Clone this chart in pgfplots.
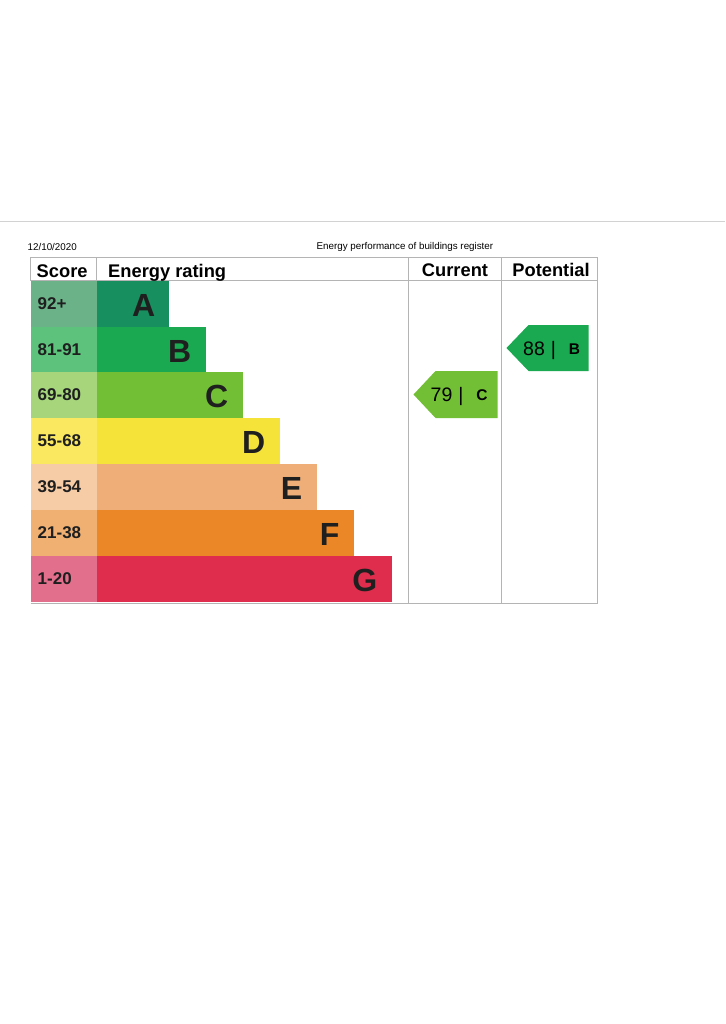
\documentclass[border=0pt]{standalone}
\usepackage{pgfplots}
\pgfplotsset{compat=1.18}
\usepackage{fontspec}
\setmainfont{Liberation Sans}
\definecolor{cA}{HTML}{178F5F}\definecolor{cAs}{HTML}{6BB289}
\definecolor{cB}{HTML}{1AA850}\definecolor{cBs}{HTML}{5CC27C}
\definecolor{cC}{HTML}{72BF35}\definecolor{cCs}{HTML}{A6D57C}
\definecolor{cD}{HTML}{F5E33A}\definecolor{cDs}{HTML}{F9E860}
\definecolor{cE}{HTML}{EFAE77}\definecolor{cEs}{HTML}{F6CCA7}
\definecolor{cF}{HTML}{EB8726}\definecolor{cFs}{HTML}{F0B072}
\definecolor{cG}{HTML}{DF2D4D}\definecolor{cGs}{HTML}{E2708D}
\definecolor{grid}{HTML}{B4B4B4}
\newcommand{\scorelab}[1]{{\fontsize{17}{19}\selectfont\bfseries #1}}
\newcommand{\bandlab}[1]{{\fontsize{32}{34}\selectfont\bfseries #1}}
\begin{document}
\begin{tikzpicture}
\begin{axis}[width=724pt,height=1024pt,scale only axis,
  xmin=0,xmax=724,ymin=0,ymax=1024,y dir=reverse,
  axis lines=none,ticks=none,clip=false]
% page extent
\path[draw=none,fill=none] (axis cs:0,0) rectangle (axis cs:724,1024);
% faint page line
\addplot[draw=gray!35,line width=1pt] coordinates {(0,222) (724,222)};
% score cells
\addplot[fill=cAs,draw=none] coordinates {(30,281) (96,281) (96,327) (30,327)} -- cycle;
\addplot[fill=cBs,draw=none] coordinates {(30,327) (96,327) (96,372) (30,372)} -- cycle;
\addplot[fill=cCs,draw=none] coordinates {(30,372) (96,372) (96,418) (30,418)} -- cycle;
\addplot[fill=cDs,draw=none] coordinates {(30,418) (96,418) (96,464) (30,464)} -- cycle;
\addplot[fill=cEs,draw=none] coordinates {(30,464) (96,464) (96,510) (30,510)} -- cycle;
\addplot[fill=cFs,draw=none] coordinates {(30,510) (96,510) (96,556) (30,556)} -- cycle;
\addplot[fill=cGs,draw=none] coordinates {(30,556) (96,556) (96,602) (30,602)} -- cycle;
% rating bars
\addplot[fill=cA,draw=none] coordinates {(96,281) (168,281) (168,327) (96,327)} -- cycle;
\addplot[fill=cB,draw=none] coordinates {(96,327) (205,327) (205,372) (96,372)} -- cycle;
\addplot[fill=cC,draw=none] coordinates {(96,372) (242,372) (242,418) (96,418)} -- cycle;
\addplot[fill=cD,draw=none] coordinates {(96,418) (279,418) (279,464) (96,464)} -- cycle;
\addplot[fill=cE,draw=none] coordinates {(96,464) (316,464) (316,510) (96,510)} -- cycle;
\addplot[fill=cF,draw=none] coordinates {(96,510) (353,510) (353,556) (96,556)} -- cycle;
\addplot[fill=cG,draw=none] coordinates {(96,556) (391,556) (391,602) (96,602)} -- cycle;
% table lines
\addplot[draw=grid,line width=0.8pt] coordinates {(30,257) (597,257)};
\addplot[draw=grid,line width=0.8pt] coordinates {(30,280) (597,280)};
\addplot[draw=grid,line width=0.8pt] coordinates {(30,603) (597,603)};
\addplot[draw=grid,line width=0.8pt] coordinates {(30,257) (30,281)};
\addplot[draw=grid,line width=0.8pt] coordinates {(96,257) (96,281)};
\addplot[draw=grid,line width=0.8pt] coordinates {(408,257) (408,603)};
\addplot[draw=grid,line width=0.8pt] coordinates {(501,257) (501,603)};
\addplot[draw=grid,line width=0.8pt] coordinates {(597,257) (597,603)};
% arrows
\addplot[fill=cC,draw=none] coordinates {(413,394.5) (435,371) (497,371) (497,418) (435,418)} -- cycle;
\addplot[fill=cB,draw=none] coordinates {(506,348) (528,325) (588,325) (588,371) (528,371)} -- cycle;
% texts
\node[anchor=base west,inner sep=0] at (axis cs:27,251) {\fontsize{9.8}{11}\selectfont 12/10/2020};
\node[anchor=base west,inner sep=0] at (axis cs:316,249.5) {\fontsize{9.8}{11}\selectfont Energy performance of buildings register};
\node[anchor=base west,inner sep=0] at (axis cs:36,277.5) {\fontsize{18.3}{20}\selectfont\bfseries Score};
\node[anchor=base west,inner sep=0] at (axis cs:107.5,277.5) {\fontsize{18.3}{20}\selectfont\bfseries Energy rating};
\node[anchor=base,inner sep=0] at (axis cs:454.5,276) {\fontsize{18.3}{20}\selectfont\bfseries Current};
\node[anchor=base,inner sep=0] at (axis cs:550.5,276) {\fontsize{18.3}{20}\selectfont\bfseries Potential};
\node[anchor=base west,inner sep=0,text=black!88] at (axis cs:37,309.5) {\scorelab{92+}};
\node[anchor=base west,inner sep=0,text=black!88] at (axis cs:37,355) {\scorelab{81-91}};
\node[anchor=base west,inner sep=0,text=black!88] at (axis cs:37,400.5) {\scorelab{69-80}};
\node[anchor=base west,inner sep=0,text=black!88] at (axis cs:37,446.5) {\scorelab{55-68}};
\node[anchor=base west,inner sep=0,text=black!88] at (axis cs:37,492.5) {\scorelab{39-54}};
\node[anchor=base west,inner sep=0,text=black!88] at (axis cs:37,538.5) {\scorelab{21-38}};
\node[anchor=base west,inner sep=0,text=black!88] at (axis cs:37,584.5) {\scorelab{1-20}};
\node[anchor=base east,inner sep=0,text=black!88] at (axis cs:155,316.5) {\bandlab{A}};
\node[anchor=base east,inner sep=0,text=black!88] at (axis cs:191,362) {\bandlab{B}};
\node[anchor=base east,inner sep=0,text=black!88] at (axis cs:228,407.5) {\bandlab{C}};
\node[anchor=base east,inner sep=0,text=black!88] at (axis cs:265,453.5) {\bandlab{D}};
\node[anchor=base east,inner sep=0,text=black!88] at (axis cs:302,499.5) {\bandlab{E}};
\node[anchor=base east,inner sep=0,text=black!88] at (axis cs:339,545.5) {\bandlab{F}};
\node[anchor=base east,inner sep=0,text=black!88] at (axis cs:377,591.5) {\bandlab{G}};
\node[anchor=base,inner sep=0] at (axis cs:441,401) {\fontsize{19.5}{21}\selectfont 79};
\node[anchor=base,inner sep=0] at (axis cs:460.5,401) {\fontsize{19.5}{21}\selectfont |};
\node[anchor=base,inner sep=0] at (axis cs:481.5,400) {\fontsize{15.5}{17}\selectfont\bfseries C};
\node[anchor=base,inner sep=0] at (axis cs:533.5,355) {\fontsize{19.5}{21}\selectfont 88};
\node[anchor=base,inner sep=0] at (axis cs:553,355) {\fontsize{19.5}{21}\selectfont |};
\node[anchor=base,inner sep=0] at (axis cs:574,354) {\fontsize{15.5}{17}\selectfont\bfseries B};
\end{axis}
\end{tikzpicture}
\end{document}
